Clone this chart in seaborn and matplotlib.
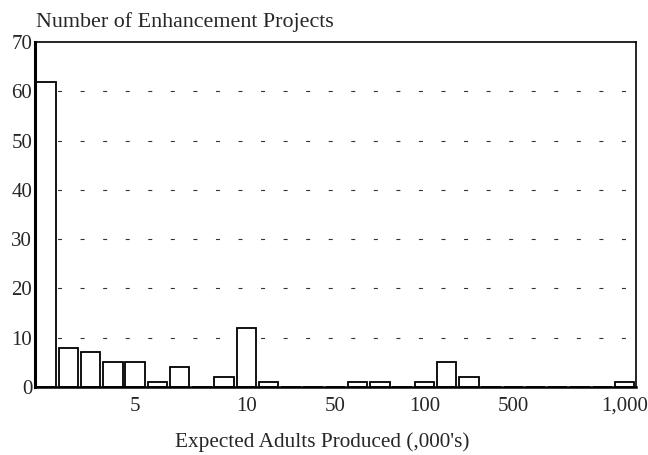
import pandas as pd
import seaborn as sns
import matplotlib.pyplot as plt

# bar slots along the x axis (27 bins) and project counts per bin
slots = list(range(27))
counts = [62, 8, 7, 5, 5, 1, 4, 0, 2, 12, 1, 0, 0, 0, 1, 1, 0, 1, 5, 2,
          0, 0, 0, 0, 0, 0, 1]
tick_slots = [4, 9, 13, 17, 21, 26]
tick_labels = ['5', '10', '50', '100', '500', '1,000']
y_ticks = [0, 10, 20, 30, 40, 50, 60, 70]

data = pd.DataFrame({'slot': [str(s) for s in slots], 'count': counts})

sns.set_style('white')
plt.rcParams['font.family'] = ['Liberation Serif', 'DejaVu Serif']

fig = plt.figure(figsize=(6.48, 4.55), dpi=100)
ax = fig.add_axes([0.054, 0.1495, 0.927, 0.758])

# 点線グリッド（短いダッシュ）
for y in y_ticks[1:-1]:
    ax.axhline(y, color='#333333', lw=0.8, linestyle=(0, (3.6, 16.7)), zorder=0)

sns.barplot(data=data, x='slot', y='count', order=[str(s) for s in slots],
            color='white', edgecolor='black', linewidth=1.3, width=0.87,
            saturation=1, ax=ax, zorder=2)

ax.set_xlim(-0.5, 26.5)
ax.set_ylim(0, 70)
ax.set_yticks(y_ticks)
ax.set_yticklabels([str(v) for v in y_ticks], fontsize=15)
ax.set_xticks(tick_slots)
ax.set_xticklabels(tick_labels, fontsize=15)
ax.tick_params(axis='both', length=0, pad=2)
ax.tick_params(axis='x', pad=7)

for side in ['left', 'right', 'top', 'bottom']:
    ax.spines[side].set_visible(True)
    ax.spines[side].set_color('black')
ax.spines['left'].set_linewidth(2.2)
ax.spines['bottom'].set_linewidth(1.8)
ax.spines['top'].set_linewidth(1.2)
ax.spines['right'].set_linewidth(1.2)

ax.set_xlabel('')
ax.set_ylabel('')
fig.text(0.497, 0.018, "Expected Adults Produced (,000's)", fontsize=15.3,
         ha='center', va='baseline')
fig.text(0.056, 0.94, 'Number of Enhancement Projects', fontsize=15.8,
         ha='left', va='baseline')

plt.savefig('out.png', dpi=100)
plt.close()
